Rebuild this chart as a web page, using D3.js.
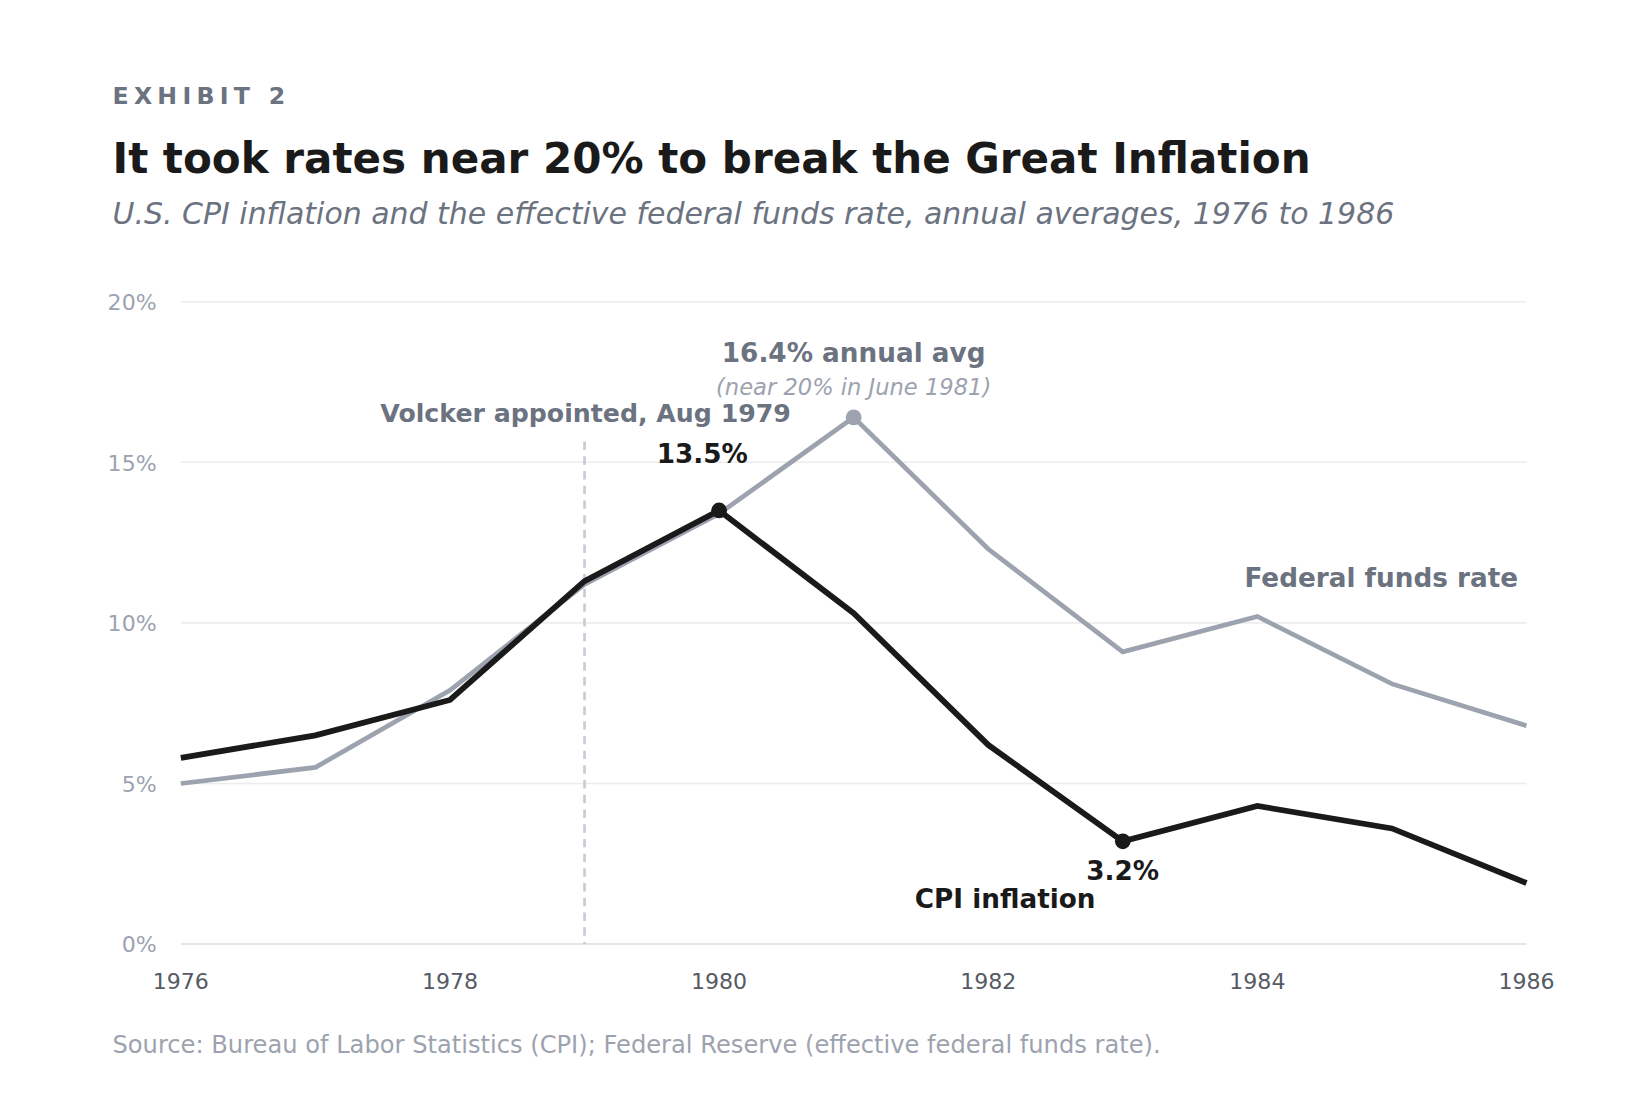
<!DOCTYPE html><html><head><meta charset="utf-8"><script src="https://cdn.jsdelivr.net/npm/d3@7"></script>
<style>body{margin:0;background:#fff;font-family:"DejaVu Sans",sans-serif}</style></head><body><svg id="c" width="1640" height="1120"></svg>
<script>
const years=[1976,1977,1978,1979,1980,1981,1982,1983,1984,1985,1986];
const cpi=[5.8,6.5,7.6,11.3,13.5,10.3,6.2,3.2,4.3,3.6,1.9];
const ffr=[5.0,5.5,7.9,11.2,13.4,16.4,12.3,9.1,10.2,8.1,6.8];
const yTicks=[0,5,10,15,20];
const xTicks=[1976,1978,1980,1982,1984,1986];
const svg=d3.select("#c").append("g").attr("transform","scale(1.0513)");
const x=d3.scaleLinear().domain([1976,1986]).range([172,1452]);
const y=d3.scaleLinear().domain([0,20]).range([898,287]);
const t=(X,Y,s,o)=>svg.append("text").attr("x",X).attr("y",Y).text(s).attr("font-size",o.fs).attr("font-weight",o.fw||"normal").attr("fill",o.c).attr("font-style",o.it?"italic":"normal").attr("text-anchor",o.a||"start").attr("letter-spacing",o.ls||0);
t(107,99,"EXHIBIT 2",{fs:22.5,fw:"bold",c:"#6b7280",ls:5});
t(107,165,"It took rates near 20% to break the Great Inflation",{fs:40,fw:"bold",c:"#1a1a1a"});
t(107,213,"U.S. CPI inflation and the effective federal funds rate, annual averages, 1976 to 1986",{fs:28.5,it:1,c:"#6b7280"});
yTicks.forEach(v=>{svg.append("line").attr("x1",172).attr("x2",1452).attr("y1",y(v)).attr("y2",y(v)).attr("stroke",v?"#ececec":"#dddddd").attr("stroke-width",1.5);
t(149,y(v)+8,v+"%",{fs:21,c:"#9ca3af",a:"end"});});
xTicks.forEach(v=>t(x(v),941,v,{fs:21,c:"#555a63",a:"middle"}));
svg.append("line").attr("x1",x(1979)).attr("x2",x(1979)).attr("y1",420).attr("y2",898).attr("stroke","#c5ccd4").attr("stroke-width",2.5).attr("stroke-dasharray","8,6");
const line=d=>d3.line().x((v,i)=>x(years[i])).y(v=>y(v))(d);
svg.append("path").attr("d",line(ffr)).attr("fill","none").attr("stroke","#9ca3af").attr("stroke-width",4.5);
svg.append("path").attr("d",line(cpi)).attr("fill","none").attr("stroke","#1a1a1a").attr("stroke-width",5.5);
svg.append("circle").attr("cx",x(1981)).attr("cy",y(16.4)).attr("r",7.5).attr("fill","#9ca3af");
[[1980,13.5],[1983,3.2]].forEach(([a,b])=>svg.append("circle").attr("cx",x(a)).attr("cy",y(b)).attr("r",7.5).attr("fill","#1a1a1a"));
t(557,401,"Volcker appointed, Aug 1979",{fs:24,fw:"bold",c:"#6b7280",a:"middle"});
t(812,344,"16.4% annual avg",{fs:25,fw:"bold",c:"#6b7280",a:"middle"});
t(812,376,"(near 20% in June 1981)",{fs:21.5,it:1,c:"#9ca3af",a:"middle"});
t(668,440,"13.5%",{fs:25,fw:"bold",c:"#1a1a1a",a:"middle"});
t(1068,837,"3.2%",{fs:25,fw:"bold",c:"#1a1a1a",a:"middle"});
t(1444,558,"Federal funds rate",{fs:25,fw:"bold",c:"#6b7280",a:"end"});
t(1042,864,"CPI inflation",{fs:25,fw:"bold",c:"#1a1a1a",a:"end"});
t(107,1002,"Source: Bureau of Labor Statistics (CPI); Federal Reserve (effective federal funds rate).",{fs:23,c:"#9ca3af"});
</script></body></html>
